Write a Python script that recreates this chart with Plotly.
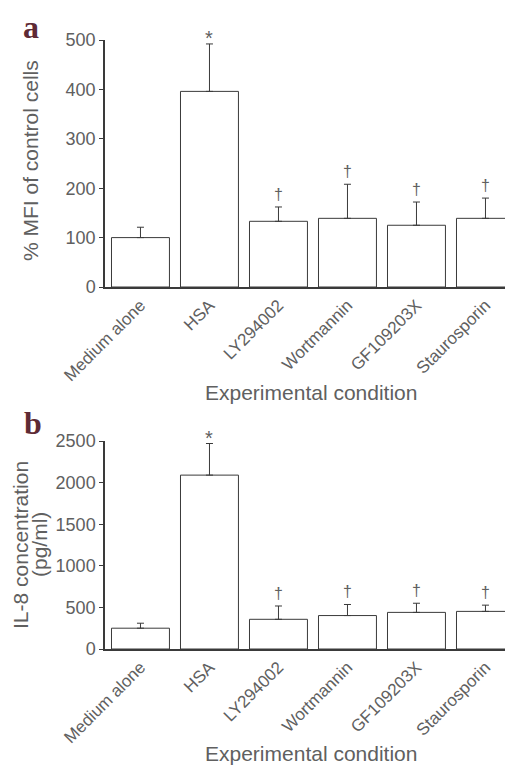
import plotly.graph_objects as go

categories = ["Medium alone", "HSA", "LY294002", "Wortmannin", "GF109203X", "Staurosporin"]

mfi_mean = [100, 396, 133, 139, 125, 139]
mfi_err = [21, 96, 29, 69, 47, 41]
mfi_marks = ["", "*", "†", "†", "†", "†"]

il8_mean = [250, 2090, 357, 402, 440, 452]
il8_err = [60, 380, 160, 133, 110, 75]
il8_marks = ["", "*", "†", "†", "†", "†"]

TXT = "#606060"
LINE = "#3a3a3a"
FONT = "Liberation Sans"
W, H = 497, 760  # page is drawn inside an 8px body margin

fig = go.Figure()


def add_panel(mean, err, marks, xa, ya):
    fig.add_trace(go.Bar(
        x=categories, y=mean, xaxis=xa, yaxis=ya,
        marker=dict(color="white", line=dict(color=LINE, width=1)),
        error_y=dict(type="data", array=err, arrayminus=[0] * len(err), symmetric=False,
                     color=LINE, thickness=1, width=3.5),
        showlegend=False, hoverinfo="skip",
    ))
    for c, m, e, s in zip(categories, mean, err, marks):
        if s:
            fig.add_annotation(x=c, y=m + e, xref=xa, yref=ya,
                               text=s, showarrow=False, yanchor="bottom", xanchor="center",
                               yshift=-7 if s == "*" else 2,
                               font=dict(family=FONT, size=20 if s == "*" else 16, color=TXT))


add_panel(mfi_mean, mfi_err, mfi_marks, "x", "y")
add_panel(il8_mean, il8_err, il8_marks, "x2", "y2")

xcommon = dict(range=[-0.514, 5.283], tickangle=-45, showline=True, linecolor=LINE, linewidth=1.5,
               ticks="", tickfont=dict(family=FONT, size=17, color=TXT), showgrid=False,
               domain=[97 / W, 1.0], zeroline=False, automargin=False)
ycommon = dict(showline=True, linecolor=LINE, linewidth=1.5, ticks="outside", ticklen=4,
               tickcolor=LINE, tickfont=dict(family=FONT, size=18, color=TXT),
               showgrid=False, zeroline=False, automargin=False)

fig.update_layout(
    width=W, height=H,
    margin=dict(l=0, r=0, t=0, b=0),
    paper_bgcolor="white", plot_bgcolor="white",
    bargap=0.16,
    xaxis=dict(**xcommon, anchor="y"),
    yaxis=dict(**ycommon, range=[0, 500], tickvals=[0, 100, 200, 300, 400, 500],
               domain=[1 - 279 / H, 1 - 32 / H], anchor="x"),
    xaxis2=dict(**xcommon, anchor="y2"),
    yaxis2=dict(**ycommon, range=[0, 2500], tickvals=[0, 500, 1000, 1500, 2000, 2500],
                domain=[1 - 641 / H, 1 - 433 / H], anchor="x2"),
)


def txt(x, y, text, size, angle=0, color=TXT, family=FONT, yanchor="middle"):
    fig.add_annotation(x=x / W, y=1 - y / H, xref="paper", yref="paper", text=text,
                       xanchor="center", yanchor=yanchor, borderpad=0,
                       textangle=angle, showarrow=False, font=dict(family=family, size=size, color=color))


# panel letters
txt(23, 0, "<b>a</b>", 32, color="#5e2a35", family="Liberation Serif", yanchor="top")
txt(25, 415, "<b>b</b>", 32, color="#5e2a35", family="Liberation Serif")

# axis titles
txt(22, 153, "% MFI of control cells", 21, angle=-90)
txt(12, 537, "IL-8 concentration", 21, angle=-90)
txt(31, 537, "(pg/ml)", 21, angle=-90)
txt(303, 384, "Experimental condition", 21)
txt(303, 745, "Experimental condition", 21)

fig.write_html("out.html")
